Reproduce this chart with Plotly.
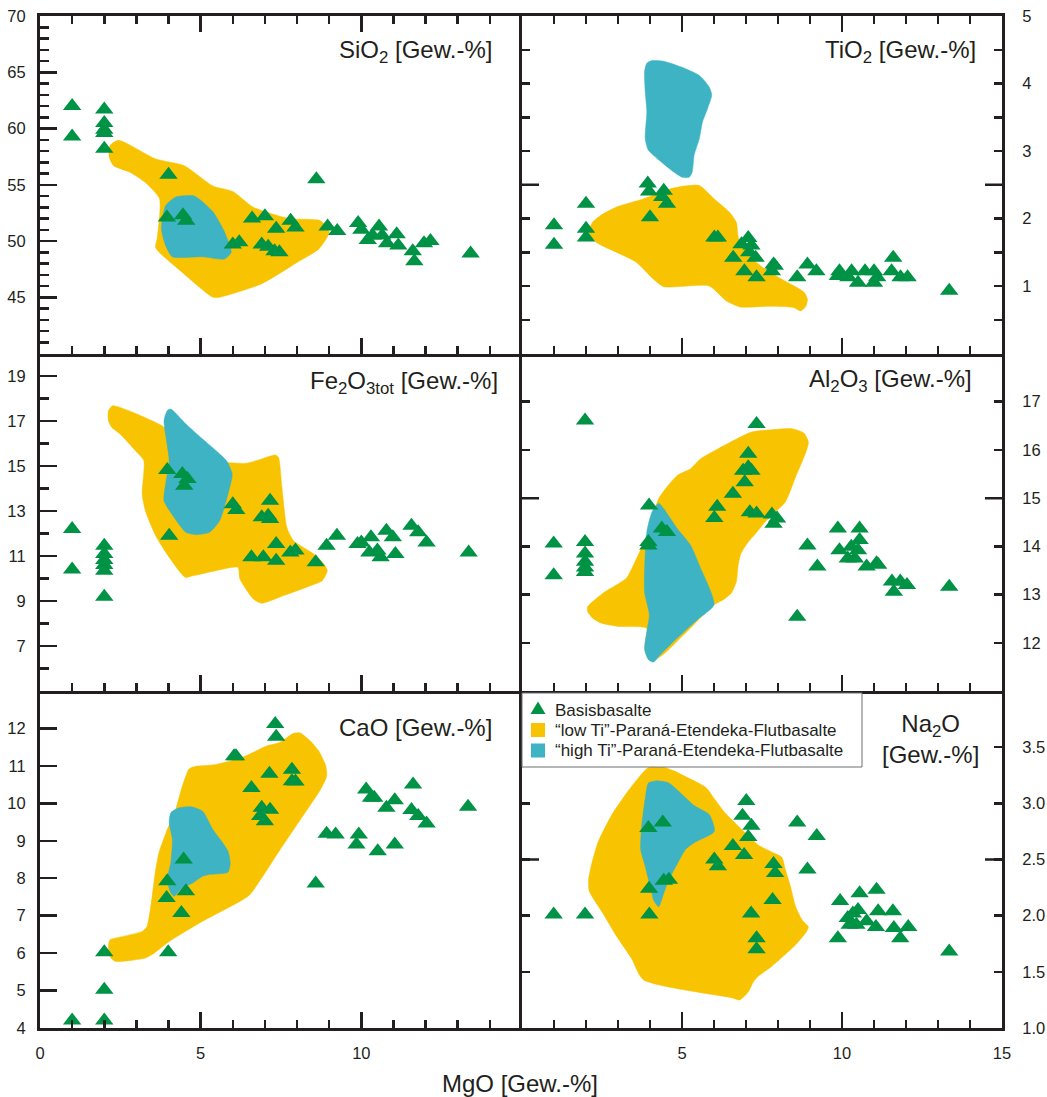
import plotly.graph_objects as go

W, H = 1047, 1097

GREEN = "#009245"
YELLOW = "#F8C300"
TEAL = "#3DB3C4"
INK = "#231F20"
FONT = "Arial, 'Liberation Sans', Helvetica, sans-serif"

# ---------------- data: Basisbasalte (MgO vs oxide) ----------------
sio2_mgo = [1.0, 1.0, 2.0, 2.0, 2.0, 2.0, 2.0, 4.0, 3.95, 4.45, 4.55, 6.0, 6.2, 6.6, 7.0, 7.35, 6.9, 7.1, 7.3, 7.45,
            7.8, 7.95, 8.6, 8.95, 9.25, 9.9, 10.0, 10.2, 10.35, 10.55, 10.65, 10.8, 11.1, 11.15, 11.6, 11.65, 11.95, 12.15, 13.4]
sio2_wt = [62.0, 59.3, 61.7, 60.5, 59.9, 59.6, 58.2, 55.9, 52.1, 52.3, 51.8, 49.7, 49.9, 52.0, 52.2, 51.1, 49.7, 49.5, 49.1, 49.0,
           51.8, 51.2, 55.5, 51.3, 50.9, 51.6, 51.0, 50.1, 50.5, 51.3, 50.5, 49.8, 50.6, 49.6, 49.1, 48.2, 49.8, 50.0, 48.9]

tio2_mgo = [1.0, 1.0, 2.0, 2.0, 2.0, 3.93, 3.97, 4.0, 4.43, 4.38, 4.53, 6.01, 6.12, 7.07, 6.86, 7.17, 7.1, 7.3, 6.6, 6.95,
            7.33, 7.86, 7.9, 7.81, 8.6, 8.92, 9.2, 9.92, 9.87, 10.2, 10.3, 10.5, 10.72, 11.0, 11.0, 11.1, 11.6, 11.55, 11.83, 12.05, 13.35]
tio2_wt = [1.9, 1.61, 2.22, 1.85, 1.72, 2.52, 2.40, 2.02, 2.41, 2.32, 2.22, 1.72, 1.72, 1.71, 1.62, 1.60, 1.50, 1.42, 1.42, 1.22,
           1.13, 1.32, 1.30, 1.22, 1.13, 1.32, 1.22, 1.22, 1.15, 1.13, 1.22, 1.05, 1.22, 1.22, 1.05, 1.13, 1.42, 1.22, 1.13, 1.13, 0.93]

fe2o3_mgo = [1.0, 1.0, 2.0, 2.0, 2.0, 2.0, 2.0, 2.0, 3.96, 4.02, 4.43, 4.59, 4.49, 6.0, 6.11, 6.58, 6.95, 7.35, 6.9, 7.16,
             7.1, 7.16, 7.35, 7.79, 7.95, 8.58, 8.92, 9.24, 9.88, 10.0, 10.3, 10.25, 10.5, 10.6, 10.78, 10.98, 11.06, 11.56, 11.77, 12.03, 13.34]
fe2o3_wt = [12.2, 10.4, 11.46, 11.09, 10.82, 10.6, 10.35, 9.19, 14.82, 11.9, 14.64, 14.42, 14.12, 13.3, 13.04, 10.94, 10.94, 10.79, 12.72, 13.46,
            12.79, 12.64, 11.53, 11.16, 11.24, 10.72, 11.46, 11.9, 11.53, 11.6, 11.83, 11.16, 11.24, 10.94, 12.12, 11.83, 11.09, 12.34, 12.05, 11.6, 11.16]

al2o3_mgo = [0.99, 0.99, 1.97, 1.97, 1.97, 1.97, 1.97, 1.97, 3.97, 3.95, 3.95, 4.37, 4.53, 6.1, 6.01, 6.59, 7.07, 6.91, 7.07, 7.17,
             6.96, 7.12, 7.33, 7.33, 7.81, 7.86, 7.97, 8.6, 8.92, 9.23, 9.87, 9.92, 10.18, 10.29, 10.4, 10.55, 10.55, 10.5, 10.77,
             11.08, 11.13, 11.56, 11.82, 11.62, 12.03, 13.35]
al2o3_wt = [14.06, 13.40, 16.61, 14.09, 13.85, 13.68, 13.56, 13.47, 14.85, 14.09, 14.02, 14.37, 14.3, 14.82, 14.59, 15.09, 15.92, 15.57, 15.64, 15.57,
            15.33, 14.71, 14.68, 16.54, 14.66, 14.47, 14.58, 12.54, 14.02, 13.58, 14.37, 13.92, 13.75, 13.99, 13.75, 14.37, 14.13, 13.92, 13.58,
            13.65, 13.62, 13.27, 13.27, 13.06, 13.2, 13.16]

cao_mgo = [1.0, 2.0, 2.0, 2.0, 3.99, 3.96, 3.94, 4.4, 4.54, 4.47, 6.04, 6.1, 6.58, 7.14, 7.32, 7.35, 6.9, 7.16, 6.85, 7.0,
           7.84, 7.84, 7.95, 8.58, 8.92, 9.2, 9.92, 9.85, 10.15, 10.3, 10.4, 10.51, 10.78, 11.04, 11.04, 11.61, 11.56, 11.77, 12.03, 13.32]
cao_wt = [4.2, 4.2, 5.02, 6.02, 6.02, 7.92, 7.47, 7.07, 7.65, 8.5, 11.26, 11.26, 10.41, 10.79, 12.12, 11.78, 9.88, 9.83, 9.66, 9.52,
          10.9, 10.59, 10.58, 7.86, 9.19, 9.17, 9.17, 8.9, 10.37, 10.15, 10.15, 8.72, 9.88, 10.08, 8.9, 10.5, 9.82, 9.66, 9.46, 9.91]

na2o_mgo = [0.99, 1.97, 3.95, 3.98, 3.97, 4.4, 4.43, 4.59, 6.01, 6.12, 6.59, 6.94, 7.01, 6.89, 7.17, 7.07, 7.16, 7.33, 7.33, 7.86,
            7.91, 7.83, 8.6, 8.92, 9.21, 9.87, 9.94, 10.18, 10.24, 10.34, 10.5, 10.55, 10.45, 10.77, 11.08, 11.13, 11.06, 11.59, 11.62,
            11.82, 12.07, 13.35]
na2o_wt = [2.01, 2.01, 2.78, 2.01, 2.24, 2.83, 2.31, 2.32, 2.5, 2.44, 2.62, 2.54, 3.02, 2.89, 2.8, 2.7, 2.02, 1.8, 1.7, 2.46,
           2.38, 2.14, 2.83, 2.41, 2.71, 1.8, 2.13, 1.98, 1.92, 2.02, 2.05, 2.2, 1.92, 1.95, 2.23, 2.04, 1.9, 2.04, 1.89,
           1.8, 1.9, 1.68]

# ---------------- data: field outlines ("low Ti" / "high Ti") ----------------
sio2_low_mgo = [2.18, 2.44, 3.6, 4.49, 5.38, 6.0, 6.64, 7.74, 8.73, 9.0, 8.68, 8.0, 6.9, 5.59, 5.38, 4.43, 3.6, 3.65, 3.72, 3.28, 2.81, 2.29, 2.15]
sio2_low_wt = [58.5, 58.96, 57.3, 56.7, 54.9, 54.4, 53.0, 52.0, 51.8, 50.8, 49.3, 48.1, 46.2, 45.0, 45.0, 47.2, 49.4, 50.3, 53.75, 55.2, 56.1, 56.7, 57.5]
sio2_high_mgo = [3.91, 4.22, 4.8, 5.38, 5.74, 5.95, 5.74, 5.06, 4.12, 3.91, 3.78]
sio2_high_wt = [53.15, 53.9, 54.0, 52.6, 50.8, 49.0, 48.4, 48.6, 48.6, 49.6, 51.1]

tio2_low_mgo = [2.21, 2.47, 2.95, 3.79, 4.64, 5.06, 5.54, 6.01, 6.49, 6.7, 6.77, 7.17, 7.6, 8.12, 8.81, 8.92, 8.87, 8.71, 8.49,
                7.81, 6.81, 6.38, 5.85, 4.43, 4.11, 3.58, 2.95, 2.31, 2.08]
tio2_low_wt = [1.95, 2.05, 2.17, 2.29, 2.44, 2.48, 2.49, 2.29, 2.09, 1.94, 1.70, 1.42, 1.25, 1.10, 0.91, 0.80, 0.70, 0.63, 0.68,
               0.70, 0.69, 0.78, 1.0, 0.99, 1.10, 1.35, 1.50, 1.65, 1.80]
tio2_high_mgo = [3.9, 4.06, 4.43, 5.06, 5.54, 5.85, 5.93, 5.8, 5.64, 5.54, 5.38, 5.32, 5.22, 5.01, 4.74, 4.22, 3.95, 3.85, 3.9, 3.85, 3.83]
tio2_high_wt = [4.30, 4.34, 4.33, 4.23, 4.12, 3.95, 3.83, 3.63, 3.43, 3.18, 2.94, 2.69, 2.61, 2.61, 2.69, 2.89, 3.01, 3.18, 3.58, 3.88, 4.18]

fe2o3_low_mgo = [2.13, 2.26, 3.8, 4.02, 4.96, 5.8, 6.42, 6.74, 7.32, 7.42, 7.53, 7.68, 7.89, 8.52, 8.84, 8.94, 8.78, 8.42, 7.58,
                 6.9, 6.64, 6.22, 6.16, 5.48, 4.75, 4.52, 4.02, 3.6, 3.28, 3.18, 3.23, 2.97, 2.49, 2.23, 2.13]
fe2o3_low_wt = [17.46, 17.68, 16.79, 16.5, 15.31, 15.16, 15.12, 15.24, 15.49, 15.39, 14.05, 12.28, 11.68, 11.09, 10.64, 10.35, 9.9, 9.68, 9.24,
                8.9, 9.09, 9.98, 10.5, 10.35, 10.12, 10.05, 10.94, 11.9, 13.01, 13.76, 15.24, 15.68, 16.42, 16.72, 17.01]
fe2o3_high_mgo = [3.86, 3.96, 4.07, 4.54, 5.06, 5.48, 5.8, 5.98, 5.85, 5.59, 5.27, 4.85, 4.54, 4.17, 3.86, 3.91, 4.02]
fe2o3_high_wt = [17.01, 17.46, 17.53, 16.87, 16.2, 15.68, 15.24, 14.64, 13.76, 12.57, 12.05, 11.95, 12.05, 12.72, 13.46, 14.2, 15.24]

al2o3_low_mgo = [2.05, 2.53, 3.26, 3.48, 3.95, 4.27, 4.85, 5.27, 5.59, 6.12, 7.17, 7.81, 8.44, 8.81, 8.95, 8.87, 8.55, 8.23, 7.91,
                 7.6, 7.28, 7.07, 6.84, 6.75, 6.7, 6.54, 6.28, 6.0, 5.06, 4.22, 3.85, 3.9, 3.0, 2.47, 2.21, 2.05]
al2o3_low_wt = [12.75, 13.03, 13.34, 13.61, 14.3, 14.99, 15.47, 15.61, 15.82, 16.02, 16.37, 16.42, 16.44, 16.35, 16.16, 15.95, 15.44, 14.92, 14.71,
                14.51, 14.25, 14.09, 13.85, 13.58, 13.27, 13.03, 12.89, 12.79, 12.17, 11.68, 11.96, 12.30, 12.34, 12.41, 12.51, 12.65]
al2o3_high_mgo = [4.27, 4.85, 5.27, 5.54, 6.0, 5.48, 4.85, 4.32, 4.11, 3.95, 3.83, 3.9, 3.98, 3.83, 3.9, 4.06]
al2o3_high_wt = [14.89, 14.37, 14.02, 13.61, 12.79, 12.48, 12.1, 11.75, 11.6, 11.65, 11.86, 12.23, 12.58, 13.06, 14.3, 14.71]

cao_low_mgo = [2.18, 2.34, 3.18, 3.33, 3.6, 3.7, 3.96, 4.22, 4.43, 4.64, 4.85, 5.48, 6.32, 7.05, 7.47, 7.89, 8.1, 8.42, 8.68,
               8.89, 8.92, 8.73, 8.21, 7.47, 6.53, 6.22, 5.06, 4.02, 3.49, 3.28, 2.34, 2.18, 2.13]
cao_low_wt = [6.36, 6.4, 6.58, 6.71, 8.23, 8.68, 9.3, 9.83, 10.46, 10.92, 10.99, 11.04, 11.24, 11.53, 11.63, 11.87, 11.88, 11.66, 11.39,
              11.01, 10.72, 10.37, 9.7, 8.76, 7.56, 7.38, 6.85, 6.31, 5.96, 5.87, 5.78, 5.91, 6.18]
cao_high_mgo = [4.07, 4.33, 4.7, 5.06, 5.38, 5.69, 5.85, 5.92, 5.85, 5.27, 5.06, 4.75, 4.43, 4.17, 4.07, 3.96, 4.07, 4.12, 4.02]
cao_high_wt = [9.75, 9.88, 9.91, 9.79, 9.3, 8.94, 8.72, 8.41, 8.16, 8.1, 8.05, 7.87, 7.74, 7.52, 7.61, 7.96, 8.41, 9.03, 9.48]

na2o_low_mgo = [3.95, 4.32, 4.74, 5.17, 5.75, 6.01, 6.33, 6.75, 7.38, 7.86, 8.12, 8.23, 8.39, 8.55, 8.76, 8.95, 8.87, 8.55, 7.81,
                7.38, 7.23, 7.07, 6.8, 6.54, 3.79, 3.42, 2.95, 2.53, 2.1, 2.08, 2.16, 2.37, 2.79, 3.37]
na2o_low_wt = [3.32, 3.33, 3.29, 3.23, 3.14, 3.04, 2.92, 2.8, 2.63, 2.56, 2.52, 2.41, 2.26, 2.08, 1.96, 1.9, 1.85, 1.74, 1.55,
               1.46, 1.41, 1.32, 1.25, 1.27, 1.43, 1.62, 1.82, 2.02, 2.22, 2.32, 2.44, 2.65, 2.89, 3.13]
na2o_high_mgo = [3.95, 4.22, 4.59, 5.38, 5.85, 6.01, 5.38, 5.11, 4.85, 4.59, 4.43, 4.27, 4.11, 4.06, 3.85, 3.71, 3.74, 3.85]
na2o_high_wt = [3.18, 3.2, 3.18, 2.98, 2.9, 2.75, 2.65, 2.59, 2.46, 2.32, 2.2, 2.08, 2.14, 2.2, 2.44, 2.59, 2.8, 3.04]

# ---------------- axis ranges / tick labels ----------------
x_range = [0, 15]
sio2_range, sio2_ticks = [40, 70], [45, 50, 55, 60, 65, 70]
fe2o3_range, fe2o3_ticks = [5, 20], [7, 9, 11, 13, 15, 17, 19]
cao_range, cao_ticks = [4, 13], [4, 5, 6, 7, 8, 9, 10, 11, 12]
tio2_range, tio2_ticks = [0, 5], [1, 2, 3, 4, 5]
tio2_half = [0.5, 1.5, 2.5, 3.5, 4.5]
al2o3_range, al2o3_ticks = [11, 18], [12, 13, 14, 15, 16, 17]
na2o_range, na2o_ticks = [1.0, 4.0], [1.0, 1.5, 2.0, 2.5, 3.0, 3.5]
na2o_labels = ["1.0", "1.5", "2.0", "2.5", "3.0", "3.5"]

panels = [
    dict(col=0, row=0, yr=sio2_range, yt=sio2_ticks, yl=None, pts=(sio2_mgo, sio2_wt),
         low=(sio2_low_mgo, sio2_low_wt), high=(sio2_high_mgo, sio2_high_wt), long=None, minor=1, half=None),
    dict(col=1, row=0, yr=tio2_range, yt=tio2_ticks, yl=None, pts=(tio2_mgo, tio2_wt),
         low=(tio2_low_mgo, tio2_low_wt), high=(tio2_high_mgo, tio2_high_wt), long=2.5, minor=None, half=tio2_half),
    dict(col=0, row=1, yr=fe2o3_range, yt=fe2o3_ticks, yl=None, pts=(fe2o3_mgo, fe2o3_wt),
         low=(fe2o3_low_mgo, fe2o3_low_wt), high=(fe2o3_high_mgo, fe2o3_high_wt), long=None, minor=1, half=None),
    dict(col=1, row=1, yr=al2o3_range, yt=al2o3_ticks, yl=None, pts=(al2o3_mgo, al2o3_wt),
         low=(al2o3_low_mgo, al2o3_low_wt), high=(al2o3_high_mgo, al2o3_high_wt), long=15, minor=None, half=None),
    dict(col=0, row=2, yr=cao_range, yt=cao_ticks, yl=None, pts=(cao_mgo, cao_wt),
         low=(cao_low_mgo, cao_low_wt), high=(cao_high_mgo, cao_high_wt), long=None, minor=None, half=None),
    dict(col=1, row=2, yr=na2o_range, yt=na2o_ticks, yl=na2o_labels, pts=(na2o_mgo, na2o_wt),
         low=(na2o_low_mgo, na2o_low_wt), high=(na2o_high_mgo, na2o_high_wt), long=2.5, minor=None, half=None),
]

col_px = [(40, 522), (522, 1002)]
row_px = [(16, 353.5), (353.5, 691), (691, 1028)]

fig = go.Figure()
layout = dict(template="none", width=W, height=H, autosize=False, margin=dict(l=0, r=0, t=0, b=0, pad=0),
              paper_bgcolor="white", plot_bgcolor="white", showlegend=False,
              font=dict(family=FONT, color=INK))
shapes = []

for i, p in enumerate(panels, start=1):
    xs = "x" if i == 1 else f"x{i}"
    ys = "y" if i == 1 else f"y{i}"
    xname = "xaxis" if i == 1 else f"xaxis{i}"
    yname = "yaxis" if i == 1 else f"yaxis{i}"
    c0, c1 = col_px[p["col"]]
    r0, r1 = row_px[p["row"]]

    # fields
    for (fx, fy), colr in ((p["low"], YELLOW), (p["high"], TEAL)):
        fig.add_trace(go.Scatter(x=list(fx) + [fx[0]], y=list(fy) + [fy[0]], xaxis=xs, yaxis=ys,
                                 mode="lines", fill="toself", fillcolor=colr,
                                 line=dict(color=colr, width=0.5, shape="spline", smoothing=0.6),
                                 hoverinfo="skip"))
    # samples
    fig.add_trace(go.Scatter(x=p["pts"][0], y=p["pts"][1], xaxis=xs, yaxis=ys, mode="markers",
                             marker=dict(symbol="triangle-up", size=16, color=GREEN, line=dict(width=0)),
                             cliponaxis=False))

    bottom = p["row"] == 2
    xt = [0, 5, 10] if p["col"] == 0 else [5, 10, 15]
    layout[xname] = dict(domain=[c0 / W, c1 / W], range=x_range, anchor=ys, automargin=False,
                         showline=True, linecolor=INK, linewidth=3,
                         mirror="ticks" if p["row"] == 0 else False,
                         ticks="inside", tickmode="array", tickvals=xt, ticklen=16, tickwidth=2.5, tickcolor=INK,
                         minor=dict(tickmode="linear", tick0=0, dtick=1, ticks="inside", ticklen=8,
                                    tickwidth=2.5, tickcolor=INK, showgrid=False),
                         showticklabels=bottom, tickfont=dict(size=16.5, color=INK, family=FONT),
                         ticklabelstandoff=8, showgrid=False, zeroline=False, fixedrange=True)

    ydict = dict(domain=[1 - r1 / H, 1 - r0 / H], range=p["yr"], anchor=xs, automargin=False,
                 showline=True, linecolor=INK, linewidth=3,
                 ticks="inside", tickmode="array", tickvals=p["yt"], tickcolor=INK, tickwidth=2.5,
                 tickfont=dict(size=16.5, color=INK, family=FONT),
                 showgrid=False, zeroline=False, fixedrange=True)
    if p["yl"] is not None:
        ydict["ticktext"] = p["yl"]
    if p["col"] == 0:
        ydict.update(side="left", mirror=False, ticklen=17, ticklabelstandoff=8)
        if p["minor"]:
            ydict["minor"] = dict(tickmode="linear", tick0=0, dtick=p["minor"], ticks="inside",
                                  ticklen=9, tickwidth=2.5, tickcolor=INK, showgrid=False)
    else:
        ydict.update(side="right", mirror="ticks", ticklen=8, ticklabelstandoff=14)
        if p["half"]:
            ydict["minor"] = dict(tickmode="array", tickvals=p["half"], ticks="inside",
                                  ticklen=8, tickwidth=2.5, tickcolor=INK, showgrid=False)
    layout[yname] = ydict

    if p["long"] is not None:
        frac = 17 / (c1 - c0)
        for a, b in ((0, frac), (1 - frac, 1)):
            shapes.append(dict(type="line", xref=f"{xs} domain", yref=ys, x0=a, x1=b,
                               y0=p["long"], y1=p["long"], line=dict(color=INK, width=2.5), layer="above"))

# ---------------- legend (drawn in pixel positions) ----------------
def px(xv):
    return xv / W


def py(yv):
    return 1 - yv / H


shapes.append(dict(type="rect", xref="paper", yref="paper", x0=px(522), x1=px(862), y0=py(767), y1=py(693),
                   fillcolor="white", line=dict(color="#6D6E71", width=1), layer="above"))
tri = f"M {px(530.5)} {py(714)} L {px(545.5)} {py(714)} L {px(538)} {py(701.5)} Z"
shapes.append(dict(type="path", xref="paper", yref="paper", path=tri, fillcolor=GREEN,
                   line=dict(width=0), layer="above"))
shapes.append(dict(type="rect", xref="paper", yref="paper", x0=px(531), x1=px(545), y0=py(737), y1=py(723),
                   fillcolor=YELLOW, line=dict(width=0), layer="above"))
shapes.append(dict(type="rect", xref="paper", yref="paper", x0=px(531), x1=px(545), y0=py(757.5), y1=py(743.5),
                   fillcolor=TEAL, line=dict(width=0), layer="above"))

legend_labels = ["Basisbasalte",
                 "\u201clow Ti\u201d-Paran\u00e1-Etendeka-Flutbasalte",
                 "\u201chigh Ti\u201d-Paran\u00e1-Etendeka-Flutbasalte"]
legend_y = [710, 730, 750.5]

annotations = []
for t, yv in zip(legend_labels, legend_y):
    annotations.append(dict(text=t, xref="paper", yref="paper", x=px(553), y=py(yv), xanchor="left",
                            yanchor="middle", showarrow=False, font=dict(size=17, color=INK, family=FONT)))

# ---------------- panel titles ----------------
titles = [
    ("SiO<sub>2</sub> [Gew.-%]", 494, 52, "right"),
    ("TiO<sub>2</sub> [Gew.-%]", 978, 52, "right"),
    ("Fe<sub>2</sub>O<sub>3tot</sub> [Gew.-%]", 500, 382, "right"),
    ("Al<sub>2</sub>O<sub>3</sub> [Gew.-%]", 974, 380, "right"),
    ("CaO [Gew.-%]", 494, 727, "right"),
    ("Na<sub>2</sub>O<br>[Gew.-%]", 930, 739, "center"),
]
for t, xv, yv, anc in titles:
    annotations.append(dict(text=t, xref="paper", yref="paper", x=px(xv), y=py(yv), xanchor=anc,
                            yanchor="middle", align="center", showarrow=False,
                            font=dict(size=24, color=INK, family=FONT)))

annotations.append(dict(text="MgO [Gew.-%]", xref="paper", yref="paper", x=px(520), y=py(1083),
                        xanchor="center", yanchor="middle", showarrow=False,
                        font=dict(size=24, color=INK, family=FONT)))

layout["shapes"] = shapes
layout["annotations"] = annotations
fig.update_layout(**layout)

fig.write_html("out.html", config={"displayModeBar": False, "staticPlot": True},
               post_script="document.body.style.margin='0px';document.body.style.overflow='hidden';")
